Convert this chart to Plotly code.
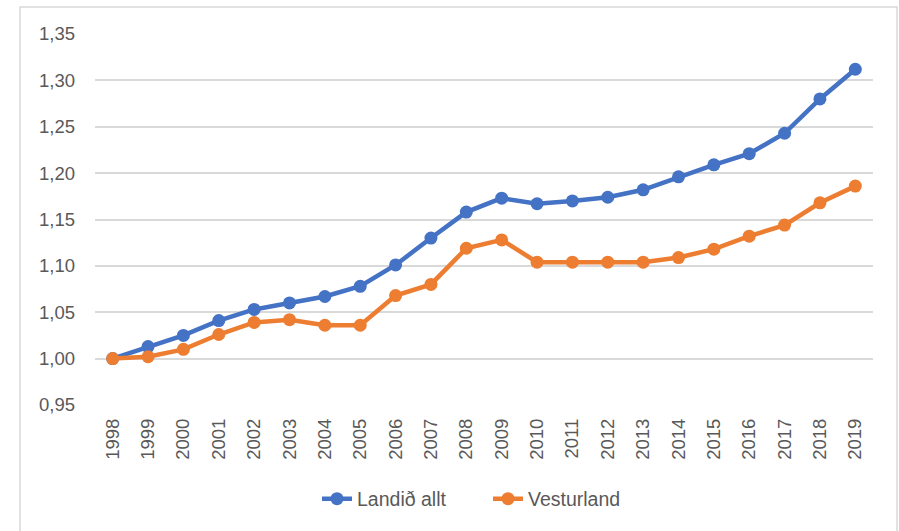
import plotly.graph_objects as go

years = [str(y) for y in range(1998, 2020)]
landid_allt = [1.000, 1.013, 1.025, 1.041, 1.053, 1.060, 1.067, 1.078, 1.101, 1.130,
               1.158, 1.173, 1.167, 1.170, 1.174, 1.182, 1.196, 1.209, 1.221, 1.243,
               1.280, 1.312]
vesturland = [1.000, 1.002, 1.010, 1.026, 1.039, 1.042, 1.036, 1.036, 1.068, 1.080,
              1.119, 1.128, 1.104, 1.104, 1.104, 1.104, 1.109, 1.118, 1.132, 1.144,
              1.168, 1.186]
y_ticks = [0.95, 1.00, 1.05, 1.10, 1.15, 1.20, 1.25, 1.30, 1.35]

W, H = 899, 531
ml, mr, mt, mb = 95, 26, 34, 126
pw, ph = W - ml - mr, H - mt - mb

fig = go.Figure()
fig.add_trace(go.Scatter(x=years, y=landid_allt, name="Landið allt", mode="lines+markers",
                         line=dict(color="#4472C4", width=4.5),
                         marker=dict(color="#4472C4", size=13)))
fig.add_trace(go.Scatter(x=years, y=vesturland, name="Vesturland", mode="lines+markers",
                         line=dict(color="#ED7D31", width=4.5),
                         marker=dict(color="#ED7D31", size=13)))


def px_x(p):
    return (p - ml) / pw


def px_y(p):
    return (H - mb - p) / ph


fig.add_shape(type="rect", xref="paper", yref="paper",
              x0=px_x(20), x1=px_x(897), y0=px_y(545), y1=px_y(7),
              line=dict(color="#D9D9D9", width=1.5), fillcolor="rgba(0,0,0,0)", layer="below")

fig.update_layout(
    width=W, height=H,
    margin=dict(l=ml, r=mr, t=mt, b=mb),
    paper_bgcolor="white", plot_bgcolor="white",
    separators=",.",
    font=dict(family="Liberation Sans, Arial, sans-serif", color="#595959", size=18),
    showlegend=True,
    legend=dict(orientation="h", x=px_x(488), xanchor="center", y=px_y(499), yanchor="middle",
                font=dict(size=19.5, color="#595959"), entrywidth=126),
    xaxis=dict(type="category", range=[-0.5, len(years) - 0.5], showgrid=False,
               showline=False, ticks="", tickangle=-90, tickfont=dict(size=18.5),
               ticklabelstandoff=9),
    yaxis=dict(range=[0.95, 1.35], tickvals=y_ticks, tickformat=".2f",
               showgrid=True, gridcolor="#D9D9D9", gridwidth=1.5, zeroline=False,
               showline=False, ticks="", tickfont=dict(size=18.5), ticklabelstandoff=19),
)

fig.write_html("out.html", config={"displayModeBar": False},
               post_script="document.body.style.margin='0';document.body.style.padding='0';")
